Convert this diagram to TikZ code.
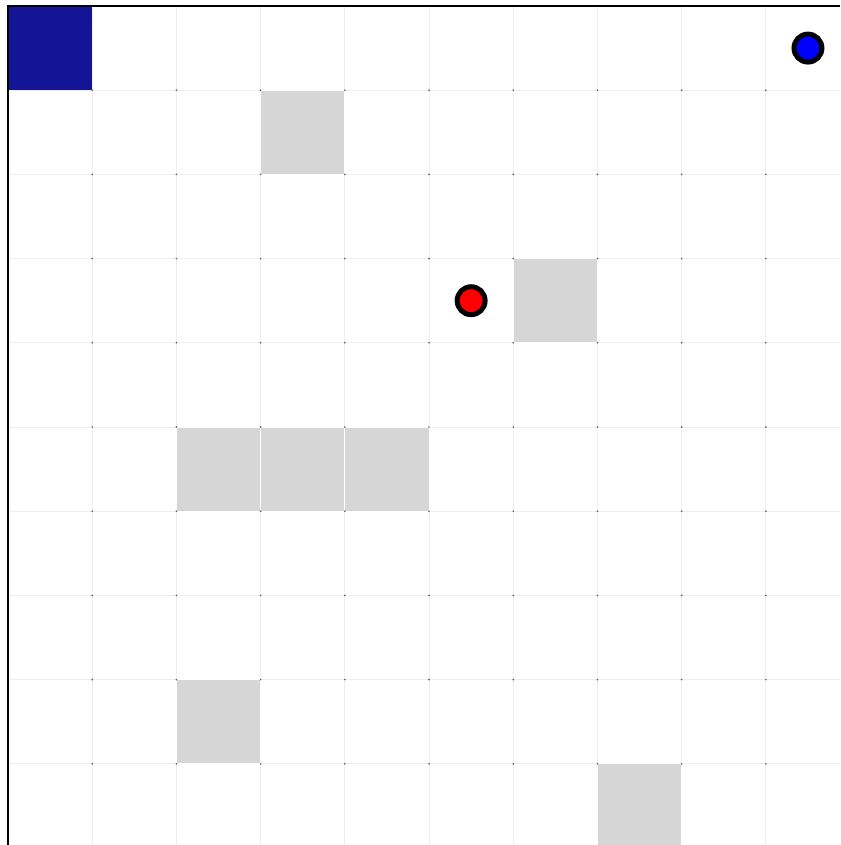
\documentclass[tikz,border=0pt]{standalone}
\definecolor{cgoal}{HTML}{141496}
\definecolor{cwall}{HTML}{D6D6D6}
\definecolor{cgrid}{HTML}{EDEDF8}
\definecolor{cdot}{HTML}{606070}
\tikzset{
  every picture/.style={line width=0.8pt},
  gridline/.style={draw=cgrid, line width=0.8pt},
  cell/.style={fill=#1, draw=white, line width=0.9pt},
  cell/.default=cwall,
  agent/.style={circle, draw=black, fill=#1, line width=4.2pt, minimum size=0.84cm, inner sep=0pt},
  frame/.style={draw=black, line width=1.7pt},
}
\begin{document}
\begin{tikzpicture}[x=2.526cm, y=-2.526cm]
  \useasboundingbox (-0.095,-0.071) rectangle (9.881,9.964);
  \fill[white] (-0.095,-0.071) rectangle (9.881,9.964);
  % grid lines
  \foreach \i in {1,...,9} {
    \draw[gridline] (\i,0) -- (\i,9.964);
    \draw[gridline] (0,\i) -- (9.881,\i);
  }
  % goal cell
  \fill[cgoal] (0,0) rectangle (1,1);
  % walls
  \foreach \c/\r in {3/1, 6/3, 2/5, 3/5, 4/5, 2/8, 7/9}
    { \filldraw[cell] (\c,\r) rectangle ++(1,1); }
  % corner dots
  \foreach \i in {1,...,9}
    \foreach \j in {1,...,9}
      { \fill[cdot] (\i,\j) circle[radius=0.8pt]; }
  % agents
  \node[agent=red] (redagent) at (5.5,3.5) {};
  \node[agent=blue] (blueagent) at (9.5,0.5) {};
  % frame
  \draw[frame] (0,9.964) -- (0,0) -- (9.881,0);
\end{tikzpicture}
\end{document}
